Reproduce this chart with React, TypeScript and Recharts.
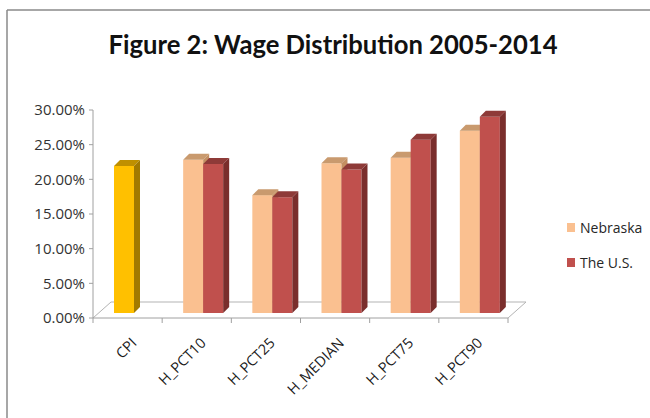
import { Bar, BarChart, Cell, Legend, XAxis, YAxis } from "recharts"

const categories = ["CPI", "H_PCT10", "H_PCT25", "H_MEDIAN", "H_PCT75", "H_PCT90"]
const nebraska = [0.212, 0.221, 0.17, 0.216, 0.224, 0.263]
const unitedStates = [null, 0.215, 0.167, 0.207, 0.25, 0.283]
const yTicks = [0, 0.05, 0.1, 0.15, 0.2, 0.25, 0.3]

const data = categories.map((name, i) => ({
  name,
  nebraska: nebraska[i],
  us: unitedStates[i],
}))

// layout of the plot box (front edge of the 3d floor)
const PLOT_LEFT = 93
const PLOT_RIGHT = 508
const PLOT_TOP = 110
const AXIS_Y = 318
const FLOOR_DX = 18
const FLOOR_DY = 16
const HALF_BAND = (PLOT_RIGHT - PLOT_LEFT) / categories.length / 2

// bars sit a little behind the front edge and have their own depth
const SHIFT_X = 6
const SHIFT_Y = -5
const DEPTH_X = 6
const DEPTH_Y = 6

const NEB = "#FAC090"
const US = "#C0504D"
const CPI = "#FFC000"
const AXIS = "#a0a0a0"

const faces: Record<string, { top: string; side: string }> = {
  [NEB]: { top: "#C99A6E", side: "#C38F62" },
  [US]: { top: "#8E3A38", side: "#7A2E2C" },
  [CPI]: { top: "#BF9000", side: "#A27A00" },
}

function Bar3D(props: any) {
  const { x, y, width, height, fill } = props
  if (!height || height <= 0) return null
  const fx = x + SHIFT_X
  const fy = y + SHIFT_Y
  const f = faces[fill] ?? faces[NEB]
  return (
    <g>
      <rect x={fx} y={fy} width={width} height={height} fill={fill} />
      <polygon
        points={`${fx},${fy} ${fx + DEPTH_X},${fy - DEPTH_Y} ${fx + width + DEPTH_X},${fy - DEPTH_Y} ${fx + width},${fy}`}
        fill={f.top}
      />
      <polygon
        points={`${fx + width},${fy} ${fx + width + DEPTH_X},${fy - DEPTH_Y} ${fx + width + DEPTH_X},${fy + height - DEPTH_Y} ${fx + width},${fy + height}`}
        fill={f.side}
      />
    </g>
  )
}

// label plus a tick mark at the left edge of each category (and the right edge of the last one)
function CategoryTick(props: any) {
  const { x, payload, index } = props
  const tx = x + 10
  const ty = AXIS_Y + 26
  const last = index === categories.length - 1
  return (
    <g>
      <line x1={x - HALF_BAND} y1={AXIS_Y} x2={x - HALF_BAND} y2={AXIS_Y + 5} stroke={AXIS} />
      {last && <line x1={x + HALF_BAND} y1={AXIS_Y} x2={x + HALF_BAND} y2={AXIS_Y + 5} stroke={AXIS} />}
      <text
        x={tx}
        y={ty}
        transform={`rotate(-45 ${tx} ${ty})`}
        textAnchor="end"
        fontSize={14.5}
        fontFamily="'Open Sans', sans-serif"
        fill="#1a1a1a"
      >
        {payload.value}
      </text>
    </g>
  )
}

const renderLegend = ({ payload }: any) => (
  <div style={{ fontFamily: "'Open Sans', sans-serif", fontSize: 14, color: "#262626" }}>
    {payload.map((p: any) => (
      <div key={p.value} style={{ display: "flex", alignItems: "center", height: 35 }}>
        <span style={{ width: 8, height: 9, background: p.color, marginRight: 5, display: "inline-block" }} />
        <span>{p.value}</span>
      </div>
    ))}
  </div>
)

export default function App() {
  return (
    <div style={{ position: "absolute", left: 0, top: 0, width: 650, height: 418, background: "#fff" }}>
      <svg width={650} height={418} style={{ position: "absolute", left: 0, top: 0 }}>
        <line x1={7} y1={10} x2={650} y2={10} stroke="#8a8a8a" strokeWidth={1.5} />
        <line x1={7} y1={10} x2={7} y2={418} stroke="#8a8a8a" strokeWidth={1.5} />
        <text
          x={333}
          y={54}
          textAnchor="middle"
          fontFamily="Lato, sans-serif"
          fontWeight="bold"
          fontSize={26}
          textLength={449}
          lengthAdjust="spacingAndGlyphs"
          fill="#111"
        >
          Figure 2: Wage Distribution 2005-2014
        </text>
        <polyline
          points={`${PLOT_LEFT},${AXIS_Y} ${PLOT_LEFT + FLOOR_DX},${AXIS_Y - FLOOR_DY} ${PLOT_RIGHT + FLOOR_DX},${AXIS_Y - FLOOR_DY} ${PLOT_RIGHT},${AXIS_Y}`}
          fill="none"
          stroke="#b3b3b3"
          strokeWidth={1}
        />
      </svg>
      <div style={{ position: "absolute", left: 0, top: 0 }}>
        <BarChart
          width={650}
          height={418}
          data={data}
          margin={{ top: PLOT_TOP, right: 650 - PLOT_RIGHT, bottom: 418 - AXIS_Y - 1, left: 0 }}
          barSize={20}
          barGap={0}
        >
          <XAxis
            dataKey="name"
            height={1}
            axisLine={{ stroke: AXIS }}
            tickLine={false}
            tick={<CategoryTick />}
            interval={0}
          />
          <YAxis
            type="number"
            domain={[0, 0.3]}
            ticks={yTicks}
            width={PLOT_LEFT}
            tickSize={4}
            tickMargin={4}
            tickFormatter={(v: number) => `${(v * 100).toFixed(2)}%`}
            axisLine={{ stroke: AXIS }}
            tickLine={{ stroke: AXIS }}
            tick={{ fontSize: 15, fontFamily: "'Open Sans', sans-serif", fill: "#333" }}
          />
          <Legend
            layout="vertical"
            align="center"
            verticalAlign="middle"
            content={renderLegend}
            wrapperStyle={{ left: 567, top: 210, width: 90 }}
          />
          <Bar dataKey="nebraska" name="Nebraska" fill={NEB} shape={<Bar3D />} isAnimationActive={false}>
            {data.map((d, i) => (
              <Cell key={`neb-${i}`} fill={d.name === "CPI" ? CPI : NEB} />
            ))}
          </Bar>
          <Bar dataKey="us" name="The U.S." fill={US} shape={<Bar3D />} isAnimationActive={false} />
        </BarChart>
      </div>
    </div>
  )
}
